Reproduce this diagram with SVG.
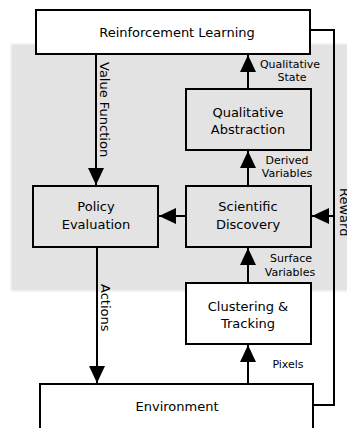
<svg xmlns="http://www.w3.org/2000/svg" width="347" height="428" viewBox="0 0 347 428">
<style>
.box{stroke:#000;stroke-width:2}
.w{fill:#fff}
.g{fill:#e3e3e3}
.t{font-family:"DejaVu Sans",sans-serif;font-size:13px;text-anchor:middle;fill:#000}
.s{font-family:"DejaVu Sans",sans-serif;font-size:11px;text-anchor:middle;fill:#000}
.r{font-family:"DejaVu Sans",sans-serif;font-size:13px;fill:#000}
.c{stroke:#000;stroke-width:2;fill:none}
</style>
<defs>
<marker id="ah" markerUnits="userSpaceOnUse" markerWidth="17" markerHeight="16" refX="17" refY="8" orient="auto">
<path d="M0,0 L17,8 L0,16 z" fill="#000"/>
</marker>
<filter id="bl" x="-5%" y="-5%" width="110%" height="110%"><feGaussianBlur stdDeviation="1"/></filter>
</defs>
<rect x="0" y="0" width="347" height="428" fill="#fff"/>
<rect id="region" x="11" y="44" width="345" height="247" fill="#e3e3e3" filter="url(#bl)"/>
<g id="connectors">
<line class="c" x1="96" y1="54" x2="96" y2="185" marker-end="url(#ah)"/>
<line class="c" x1="97" y1="247" x2="97" y2="383" marker-end="url(#ah)"/>
<line class="c" x1="248" y1="384" x2="248" y2="345" marker-end="url(#ah)"/>
<line class="c" x1="248" y1="283" x2="248" y2="248" marker-end="url(#ah)"/>
<line class="c" x1="248" y1="186" x2="248" y2="151" marker-end="url(#ah)"/>
<line class="c" x1="248" y1="89" x2="248" y2="55" marker-end="url(#ah)"/>
<line class="c" x1="186" y1="216" x2="159" y2="216" marker-end="url(#ah)"/>
<polyline class="c" points="310,30 334,30 334,405 313,405"/>
<line class="c" x1="334" y1="216" x2="312" y2="216" marker-end="url(#ah)"/>
<text class="r" transform="translate(100,62) rotate(90)">Value Function</text>
<text class="r" transform="translate(101,284) rotate(90)">Actions</text>
<text class="r" transform="translate(340,188) rotate(90)">Reward</text>
<text class="s" x="290" y="68">Qualitative</text>
<text class="s" x="292" y="81">State</text>
<text class="s" x="287" y="164">Derived</text>
<text class="s" x="287" y="177">Variables</text>
<text class="s" x="291" y="262">Surface</text>
<text class="s" x="290" y="276">Variables</text>
<text class="s" x="288" y="368">Pixels</text>
</g>
<g id="rl">
<rect class="box w" x="36" y="10" width="274" height="44"/>
<text class="t" x="177" y="37">Reinforcement Learning</text>
</g>
<g id="qa">
<rect class="box g" x="186" y="89" width="125" height="61"/>
<text class="t" x="248" y="117">Qualitative</text>
<text class="t" x="248" y="134">Abstraction</text>
</g>
<g id="sd">
<rect class="box g" x="186" y="186" width="125" height="61"/>
<text class="t" x="248" y="211">Scientific</text>
<text class="t" x="248" y="229">Discovery</text>
</g>
<g id="pe">
<rect class="box g" x="33" y="186" width="125" height="61"/>
<text class="t" x="96" y="211">Policy</text>
<text class="t" x="96" y="229">Evaluation</text>
</g>
<g id="ct">
<rect class="box w" x="186" y="283" width="125" height="61"/>
<text class="t" x="248" y="311">Clustering &amp;</text>
<text class="t" x="248" y="328">Tracking</text>
</g>
<g id="env">
<rect class="box w" x="40" y="384" width="273" height="60"/>
<text class="t" x="177" y="411">Environment</text>
</g>
</svg>
